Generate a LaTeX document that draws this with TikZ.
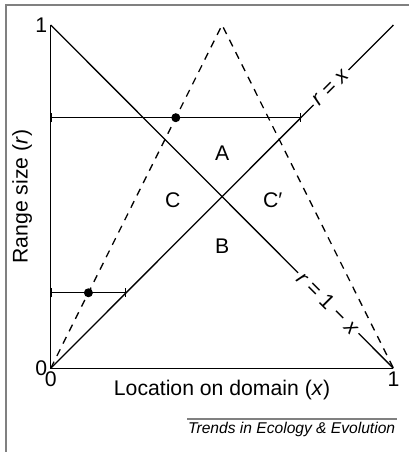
\documentclass[tikz,border=0pt]{standalone}
\usepackage{fontspec}
\setmainfont{Liberation Sans}
\usetikzlibrary{arrows.meta,positioning}

\begin{document}
\begin{tikzpicture}[x=171.35pt, y=171.65pt, line width=0.65pt,
    font=\fontsize{10.6}{12.7}\selectfont,
    curve/.style={sloped, fill=white, inner sep=1.5pt},
    rangebar/.style={{Bar[width=4.5pt]}-{Bar[width=4.5pt]}},
    dot/.style={circle, fill=black, inner sep=0pt, minimum size=4.5pt}]
\useasboundingbox (-0.148,-0.2438) rectangle (1.0455,1.0728);
% frame
\draw[gray, line width=1pt] (-0.1295,-0.2438) -- (-0.1295,1.0568) -- (1.0455,1.0568);

\coordinate (O) at (0,0);
\coordinate (X1) at (1,0);
\coordinate (Y1) at (0,1);
\coordinate (P) at (1,1);
\coordinate (T) at (0.5,1);

% axes
\draw (Y1) -- (O) -- (X1);
\node[left, inner sep=1.5pt] (ytop) at (Y1) {1};
\node[left, inner sep=1.5pt] (yzero) at (O) {0};
\node[below, inner sep=1.5pt] (xzero) at (O) {0};
\node[below, inner sep=1.5pt] (xone) at (X1) {1};
\node[anchor=base] (xlabel) at (0.5,-0.078) {Location on domain (\textit{x})};
\node[rotate=90] (ylabel) at (-0.0837,0.5) {Range size (\textit{r})};

% dashed triangle
\draw[dash pattern=on 3.7pt off 3.2pt] (O) -- (T) -- (X1);

% lines r = x and r = 1 - x
\draw (O) -- node[curve, pos=0.818] (lblx) {\textit{r} = \textit{x}} (P);
\draw (Y1) -- node[curve, pos=0.81] (lbl1x) {\textit{r} = 1 − \textit{x}} (X1);

% ranges
\coordinate (hiL) at (0,0.73);
\coordinate (hiR) at (0.73,0.73);
\coordinate (loL) at (0,0.22);
\coordinate (loR) at (0.22,0.22);
\draw[rangebar] (hiL) -- (hiR);
\draw[rangebar] (loL) -- (loR);
\node[dot] (hidot) at (0.365,0.73) {};
\node[dot] (lodot) at (0.11,0.22) {};

% regions
\node (A) at (0.5,0.627) {A};
\node (B) at (0.5,0.356) {B};
\node (C) at (0.356,0.49) {C};
\node (Cp) at (0.648,0.49) {C′};

% credit
\draw[gray, line width=0.6pt] (0.398,-0.1477) -- (1.009,-0.1477);
\node[anchor=base east, inner sep=0pt, font=\fontsize{7.8}{9}\selectfont\itshape] (credit) at (1.007,-0.189) {Trends in Ecology \& Evolution};
\end{tikzpicture}
\end{document}
